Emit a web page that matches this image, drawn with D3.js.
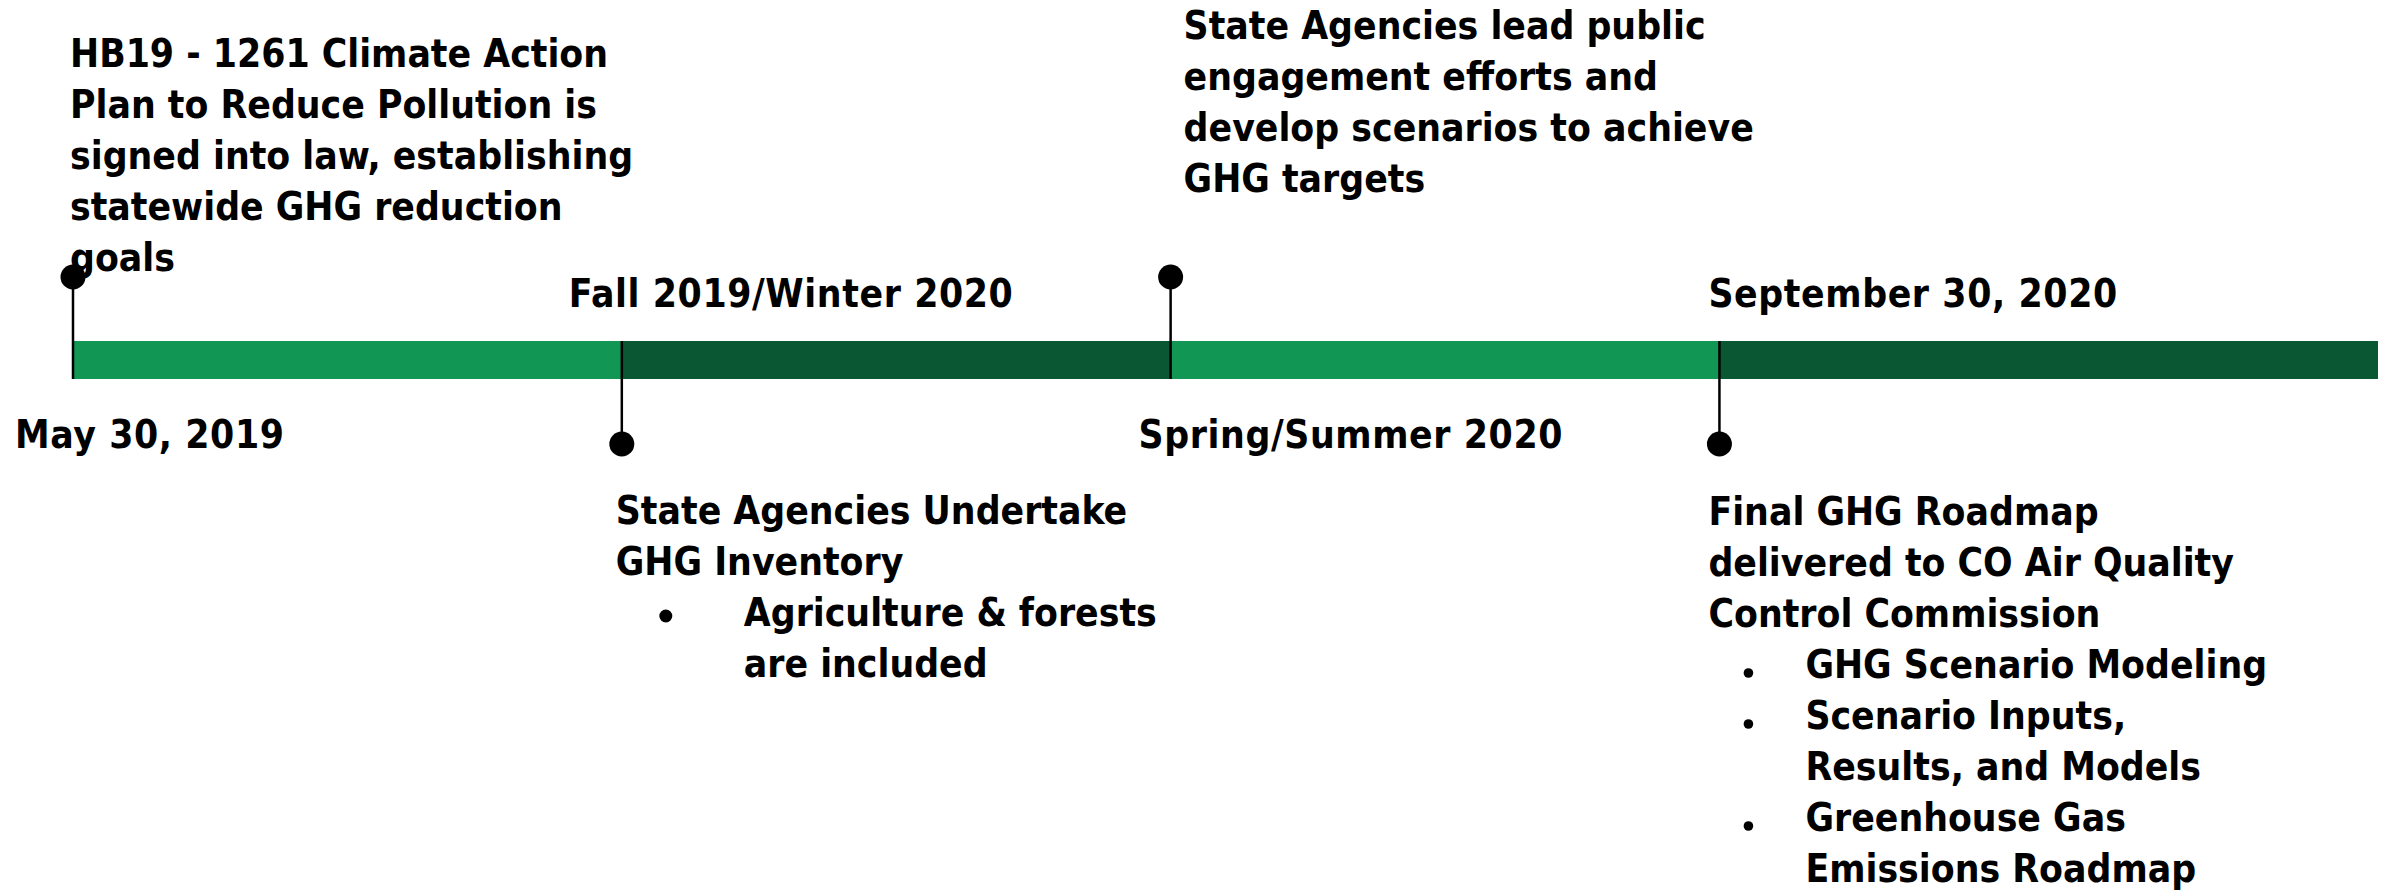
<!DOCTYPE html>
<html><head><meta charset="utf-8">
<script src="https://cdn.jsdelivr.net/npm/d3@7"></script>
<style>html,body{margin:0;padding:0;background:#fff;}</style>
</head><body>
<script>
// ---- data ----
const dateLabels = ["May 30, 2019", "Fall 2019/Winter 2020", "Spring/Summer 2020", "September 30, 2020"];
const milestonePos = [0, 1, 2, 3];
const timelineEnd = 4.2;
const descriptions = [
  ["HB19 - 1261 Climate Action", "Plan to Reduce Pollution is", "signed into law, establishing", "statewide GHG reduction", "goals"],
  ["State Agencies Undertake", "GHG Inventory"],
  ["State Agencies lead public", "engagement efforts and", "develop scenarios to achieve", "GHG targets"],
  ["Final GHG Roadmap", "delivered to CO Air Quality", "Control Commission"]
];
const bullets = [
  [],
  [["Agriculture & forests", "are included"]],
  [],
  [["GHG Scenario Modeling"], ["Scenario Inputs,", "Results, and Models"], ["Greenhouse Gas", "Emissions Roadmap"]]
];

// ---- layout / style ----
const W = 2384, H = 892;
const FONT = "'DejaVu Sans Condensed', 'DejaVu Sans', sans-serif";
const FS = 38.7;
const LH = 51;
const barTop = 341, barH = 38;
const dotR = 12.5;
const upDotY = 277, downDotY = 444;
const colors = ["#129654", "#0a5733"];
const layout = [
  {up: true,  dateDx: -58, dateY: 448, descDx: -3,  descY: 67,  bulletDx: 0,  textDx: 0,  br: 0},
  {up: false, dateDx: -53, dateY: 307, descDx: -6,  descY: 524, bulletDx: 50, textDx: 128, br: 6.5, bdy: 10},
  {up: true,  dateDx: -32, dateY: 448, descDx: 13,  descY: 39,  bulletDx: 0,  textDx: 0,  br: 0},
  {up: false, dateDx: -11, dateY: 307, descDx: -11, descY: 525, bulletDx: 40, textDx: 97, br: 4.8, bdy: 5}
];

const svg = d3.select("body").append("svg").attr("width", W).attr("height", H)
  .style("font-family", FONT).style("font-weight", "bold");
const x = d3.scaleLinear().domain([0, timelineEnd]).range([73, 2378]);

// bar segments
const segs = milestonePos.map((p, i) => ({start: p, end: i < milestonePos.length - 1 ? milestonePos[i + 1] : timelineEnd, i}));
svg.append("g").selectAll("rect").data(segs).join("rect")
  .attr("x", d => x(d.start)).attr("width", d => x(d.end) - x(d.start))
  .attr("y", barTop).attr("height", barH)
  .attr("fill", d => colors[d.i % 2]);

// connectors and dots
const m = svg.append("g").selectAll("g").data(milestonePos).join("g");
m.append("line")
  .attr("x1", d => x(d)).attr("x2", d => x(d))
  .attr("y1", (d, i) => layout[i].up ? upDotY : barTop)
  .attr("y2", (d, i) => layout[i].up ? barTop + barH : downDotY)
  .attr("stroke", "#000").attr("stroke-width", 2.5);
m.append("circle")
  .attr("cx", d => x(d))
  .attr("cy", (d, i) => layout[i].up ? upDotY : downDotY)
  .attr("r", dotR).attr("fill", "#000");

// date labels
m.append("text")
  .attr("x", (d, i) => x(d) + layout[i].dateDx)
  .attr("y", (d, i) => layout[i].dateY)
  .attr("font-size", FS).attr("letter-spacing", 0.6).attr("fill", "#000")
  .text((d, i) => dateLabels[i]);

// descriptions + bullets
milestonePos.forEach((p, i) => {
  const L = layout[i];
  const x0 = x(p) + L.descDx;
  const g = svg.append("g");
  g.selectAll("text.desc").data(descriptions[i]).join("text")
    .attr("class", "desc")
    .attr("x", x0).attr("y", (d, j) => L.descY + j * LH)
    .attr("font-size", FS).attr("fill", "#000").text(d => d);
  let row = descriptions[i].length;
  bullets[i].forEach(item => {
    g.append("circle").attr("cx", x0 + L.bulletDx).attr("cy", L.descY + row * LH - L.bdy)
      .attr("r", L.br).attr("fill", "#000");
    item.forEach(line => {
      g.append("text").attr("x", x0 + L.textDx).attr("y", L.descY + row * LH)
        .attr("font-size", FS).attr("fill", "#000").text(line);
      row++;
    });
  });
});
</script>
</body></html>
